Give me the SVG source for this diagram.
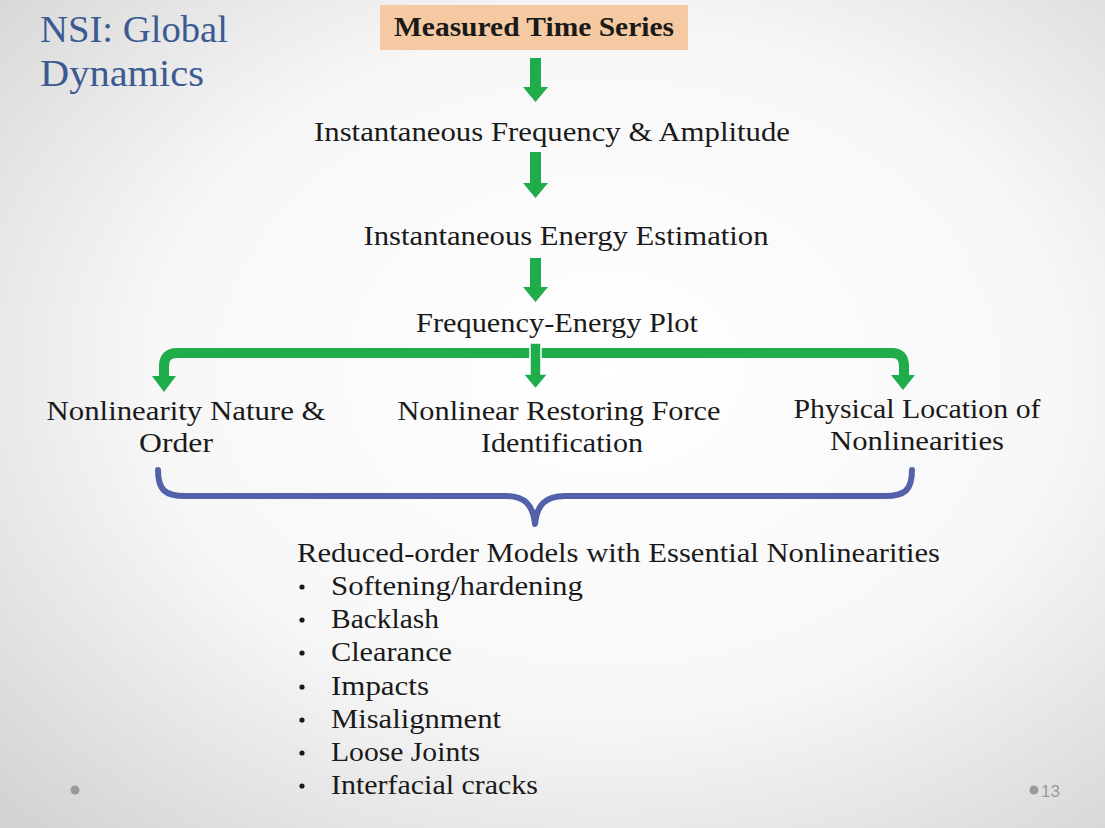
<svg xmlns="http://www.w3.org/2000/svg" width="1105" height="828" viewBox="0 0 1105 828">
<defs>
<radialGradient id="bg" cx="0.55" cy="0.45" r="0.75">
<stop offset="0" stop-color="#ffffff"/>
<stop offset="0.55" stop-color="#f7f7f7"/>
<stop offset="1" stop-color="#d4d4d4"/>
</radialGradient>
<style>
.t{font-family:"Liberation Serif","Times New Roman",serif;font-size:27px;fill:#1a1a1a}
.title{font-family:"Liberation Serif","Times New Roman",serif;font-size:38px;fill:#3b5a92}
.g{fill:#1fad4b}
.gs{stroke:#1fad4b;fill:none;stroke-width:10}
.foot{fill:#9a9a9a}
</style>
</defs>
<rect x="0" y="0" width="1105" height="828" fill="url(#bg)"/>
<g id="title">
<text class="title" x="40" y="42" textLength="188" lengthAdjust="spacingAndGlyphs">NSI: Global</text>
<text class="title" x="40" y="86" textLength="164" lengthAdjust="spacingAndGlyphs">Dynamics</text>
</g>
<g id="n-measured">
<rect x="380" y="5" width="308" height="45" fill="#f5c9a1"/>
<text class="t" x="534" y="36" text-anchor="middle" font-weight="bold" textLength="280" lengthAdjust="spacingAndGlyphs">Measured Time Series</text>
</g>
<g id="n-ifa"><text class="t" x="552" y="141" text-anchor="middle" textLength="476" lengthAdjust="spacingAndGlyphs">Instantaneous Frequency &amp; Amplitude</text></g>
<g id="n-iee"><text class="t" x="566" y="245" text-anchor="middle" textLength="405" lengthAdjust="spacingAndGlyphs">Instantaneous Energy Estimation</text></g>
<g id="n-fep"><text class="t" x="557" y="332" text-anchor="middle" textLength="282" lengthAdjust="spacingAndGlyphs">Frequency-Energy Plot</text></g>
<g id="n-nature">
<text class="t" x="186" y="420" text-anchor="middle" textLength="279" lengthAdjust="spacingAndGlyphs">Nonlinearity Nature &amp;</text>
<text class="t" x="176" y="452" text-anchor="middle" textLength="74" lengthAdjust="spacingAndGlyphs">Order</text>
</g>
<g id="n-restoring">
<text class="t" x="559" y="420" text-anchor="middle" textLength="323" lengthAdjust="spacingAndGlyphs">Nonlinear Restoring Force</text>
<text class="t" x="562" y="452" text-anchor="middle" textLength="162" lengthAdjust="spacingAndGlyphs">Identification</text>
</g>
<g id="n-location">
<text class="t" x="917" y="418" text-anchor="middle" textLength="247" lengthAdjust="spacingAndGlyphs">Physical Location of</text>
<text class="t" x="917" y="450" text-anchor="middle" textLength="174" lengthAdjust="spacingAndGlyphs">Nonlinearities</text>
</g>
<g id="n-rom">
<text class="t" x="297" y="562" textLength="643" lengthAdjust="spacingAndGlyphs">Reduced-order Models with Essential Nonlinearities</text>
<g>
<circle cx="302" cy="587" r="2.6" fill="#1a1a1a"/>
<circle cx="302" cy="620" r="2.6" fill="#1a1a1a"/>
<circle cx="302" cy="653" r="2.6" fill="#1a1a1a"/>
<circle cx="302" cy="687" r="2.6" fill="#1a1a1a"/>
<circle cx="302" cy="720" r="2.6" fill="#1a1a1a"/>
<circle cx="302" cy="753" r="2.6" fill="#1a1a1a"/>
<circle cx="302" cy="786" r="2.6" fill="#1a1a1a"/>
</g>
<text class="t" x="331" y="595" textLength="252" lengthAdjust="spacingAndGlyphs">Softening/hardening</text>
<text class="t" x="331" y="628" textLength="108" lengthAdjust="spacingAndGlyphs">Backlash</text>
<text class="t" x="331" y="661" textLength="121" lengthAdjust="spacingAndGlyphs">Clearance</text>
<text class="t" x="331" y="695" textLength="98" lengthAdjust="spacingAndGlyphs">Impacts</text>
<text class="t" x="331" y="728" textLength="170" lengthAdjust="spacingAndGlyphs">Misalignment</text>
<text class="t" x="331" y="761" textLength="149" lengthAdjust="spacingAndGlyphs">Loose Joints</text>
<text class="t" x="331" y="794" textLength="207" lengthAdjust="spacingAndGlyphs">Interfacial cracks</text>
</g>
<g id="connectors">
<polygon class="g" points="530,58 541,58 541,87 548,87 535.5,102 523,87 530,87"/>
<polygon class="g" points="530,152 541,152 541,183 548,183 535.5,198 523,183 530,183"/>
<polygon class="g" points="530,258 541,258 541,287 548,287 535.5,302 523,287 530,287"/>
<path class="gs" d="M164,378 L164,366 Q164,353 177,353 L892,353 Q904,353 904,366 L904,377"/>
<polygon class="g" points="152,376 176,376 164,392"/>
<polygon class="g" points="891,375 915,375 903,390"/>
<polygon class="g" points="530,343 541,343 541,374 548,374 535.5,389 523,374 530,374" stroke="#ffffff" stroke-width="1.5"/>
<path d="M158,470 C158,490 165,496 185,496 L505,496 C525,496 533,505 535,524 C537,505 545,496 565,496 L885,496 C905,496 912,490 912,470" fill="none" stroke="#5261a9" stroke-width="6" stroke-linecap="round" stroke-linejoin="round"/>
</g>
<g id="footer">
<circle class="foot" cx="75" cy="790" r="4.5"/>
<circle class="foot" cx="1034" cy="790" r="4.5"/>
<text x="1041" y="797" font-family="Liberation Sans, Arial, sans-serif" font-size="17" fill="#9a9a9a">13</text>
</g>
</svg>
